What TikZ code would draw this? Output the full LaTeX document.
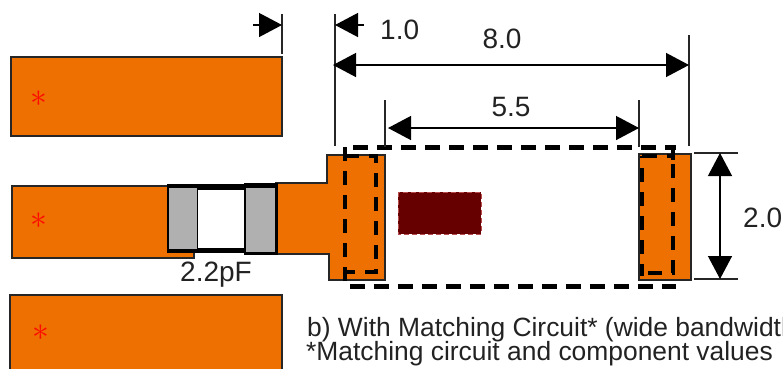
\documentclass[tikz,border=0pt]{standalone}
\usepackage{fontspec}
\setmainfont{Liberation Sans}
\usetikzlibrary{arrows.meta}
\definecolor{padorange}{HTML}{EE7000}
\definecolor{edgedark}{HTML}{262626}
\definecolor{txt}{HTML}{222222}
\definecolor{maroon}{HTML}{660000}
\definecolor{capgray}{HTML}{B0B0B0}
\tikzset{
  x=1pt,y=-1pt,
  pad/.style={draw=edgedark,line width=1.3pt,fill=padorange},
  tick/.style={draw=edgedark,line width=1.3pt},
  dim/.style={draw=black,line width=1.3pt,{Triangle[length=23pt,width=24pt]}-{Triangle[length=23pt,width=24pt]}},
  single/.style={draw=black,line width=1.3pt,-{Triangle[length=23pt,width=24pt]}},
  outline/.style={draw=black,line width=5pt,dash pattern=on 14.5pt off 9.5pt},
  inner/.style={draw=black,line width=4.5pt,dash pattern=on 14pt off 10pt},
  label/.style={text=txt,font=\fontsize{28}{28}\selectfont,inner sep=0pt,anchor=base},
  note/.style={text=txt,font=\fontsize{26.4}{26.4}\selectfont,inner sep=0pt,anchor=base west},
  star/.style={text=red!90!padorange,font=\fontsize{24}{24}\selectfont,inner sep=0pt,scale=1.35}
}
\begin{document}
\begin{tikzpicture}
\clip (0,0) rectangle (783,368);
\fill[white] (0,0) rectangle (783,368);
% pads
\draw[pad] (11,57) rectangle (282,136);
\draw[pad] (12,186) rectangle (194,258);
\draw[pad] (10,295) rectangle (282,372);
\draw[pad] (276,183) -- (327,183) -- (327,155) -- (385,155) -- (385,280) -- (329,280) -- (329,254) -- (276,254) -- cycle;
\draw[pad] (639,154) rectangle (691,280);
\node[star] (s1) at (39,99) {$\ast$};
\node[star] (s2) at (39,221) {$\ast$};
\node[star] (s3) at (41,333) {$\ast$};
% capacitor
\fill[black] (166.5,184) rectangle (246,253);
\fill[capgray] (168.5,188) rectangle (197,249);
\fill[white] (198,190) rectangle (244,248);
\fill[black] (244,183) rectangle (278,255);
\fill[capgray] (246,188) rectangle (275,252);
\node[label] (cap) at (216,281) {2.2pF};
% footprint
\fill[maroon] (398,192) rectangle (481,234);
\draw[draw=red!35!maroon!70!white,line width=.8pt,dash pattern=on 5pt off 3pt] (398,192) rectangle (481,234);
\draw[outline] (353,147) -- (676,147);
\draw[outline] (350,286) -- (676,286);
\draw[inner] (345,147) -- (345,281);
\draw[inner,line width=4pt] (345,156) -- (376,156) -- (376,272) -- (345,272);
\draw[inner,dash phase=12pt] (642,156) -- (642,276);
\draw[inner,dash pattern=on 15pt off 10pt,line width=4pt] (642,156) -- (673,156);
\draw[inner,dash phase=7pt,line width=4pt] (673,147) -- (673,273) -- (642,273);
\draw[line width=4pt,draw=black] (673,147) -- (673,160);
% dimension anchors
\coordinate (a1) at (282,25);
\coordinate (a0) at (253,25);
\coordinate (b1) at (335,25);
\coordinate (b0) at (364,25);
\coordinate (c0) at (333,65);
\coordinate (c1) at (689,65);
\coordinate (d0) at (388,128);
\coordinate (d1) at (639,128);
\coordinate (e0) at (720,153);
\coordinate (e1) at (720,279);
% ticks
\draw[tick] (282,14) -- (282,54);
\draw[tick] (335,14) -- (335,146);
\draw[tick] (689,35) -- (689,146);
\draw[tick] (385,100) -- (385,147);
\draw[tick] (639,100) -- (639,147);
\draw[tick] (694,153) -- (738,153);
\draw[tick] (694,279) -- (738,279);
% dimensions
\draw[single] (a0) -- (a1);
\draw[single] (b0) -- (b1);
\draw[dim] (c0) -- (c1);
\draw[dim] (d0) -- (d1);
\draw[dim] (e0) -- (e1);
\node[label,anchor=base west] (l1) at (380,39) {1.0};
\node[label] (l8) at (502,48) {8.0};
\node[label] (l5) at (511,116) {5.5};
\node[label,anchor=base west] (l2) at (743,227) {2.0};
\node[note] (n1) at (307,336) {b) With Matching Circuit* (wide bandwidth};
\node[note] (n2) at (306,360.5) {*Matching circuit and component values};
\end{tikzpicture}
\end{document}
